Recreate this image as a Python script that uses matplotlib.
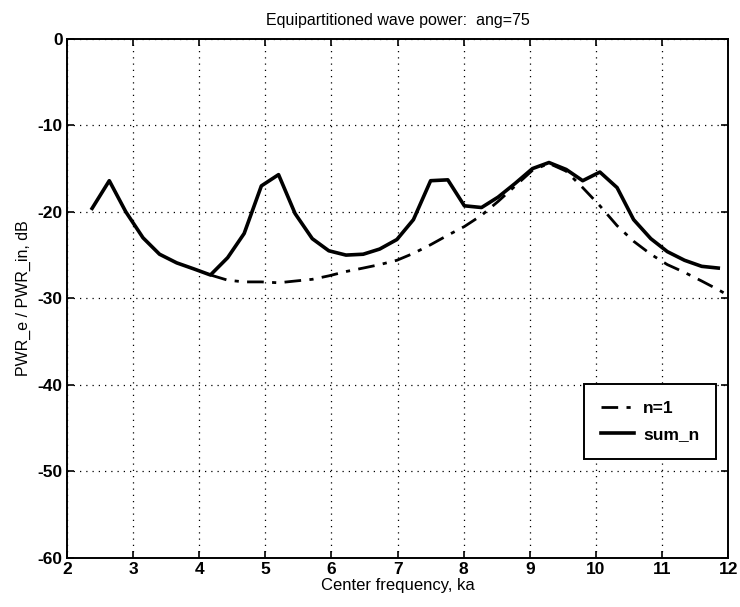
import matplotlib
matplotlib.use("Agg")
import matplotlib.pyplot as plt

plt.rcParams['font.family'] = ['Liberation Sans', 'DejaVu Sans']
plt.rcParams['axes.unicode_minus'] = False

# center frequency (ka) and power ratios in dB
ka_sum = [2.38, 2.64, 2.89, 3.15, 3.40, 3.66, 3.92, 4.17, 4.43, 4.68,
          4.94, 5.20, 5.45, 5.71, 5.96, 6.22, 6.48, 6.73, 6.99, 7.24,
          7.50, 7.76, 8.01, 8.27, 8.52, 8.78, 9.04, 9.29, 9.55, 9.80,
          10.06, 10.32, 10.57, 10.83, 11.08, 11.34, 11.60, 11.85]
pwr_sum = [-19.6, -16.4, -20.0, -23.0, -24.9, -25.9, -26.6, -27.3, -25.3, -22.5,
           -17.0, -15.7, -20.2, -23.1, -24.5, -25.0, -24.9, -24.3, -23.2, -20.9,
           -16.4, -16.3, -19.3, -19.5, -18.3, -16.7, -15.0, -14.3, -15.1, -16.4,
           -15.4, -17.2, -20.9, -23.1, -24.6, -25.6, -26.3, -26.5]

ka_n1 = [4.17, 4.43, 4.68, 4.94, 5.20, 5.45, 5.71, 5.96, 6.22, 6.48,
         6.73, 6.99, 7.24, 7.50, 7.76, 8.01, 8.27, 8.52, 8.78, 9.04,
         9.29, 9.55, 9.80, 10.06, 10.32, 10.57, 10.83, 11.08, 11.34, 11.60,
         11.85, 12.10]
pwr_n1 = [-27.3, -27.9, -28.1, -28.1, -28.2, -28.0, -27.8, -27.4, -26.9, -26.5,
          -26.1, -25.6, -24.8, -23.8, -22.7, -21.7, -20.4, -18.8, -17.0, -15.2,
          -14.4, -15.3, -17.2, -19.3, -21.6, -23.4, -24.9, -26.1, -27.0, -28.0,
          -29.0, -30.1]

xticks = list(range(2, 13))
yticks = list(range(-60, 1, 10))

fig = plt.figure(figsize=(7.4, 6.07), dpi=100)
ax = fig.add_axes([0.0905, 0.081, 0.8935, 0.855])

ax.plot(ka_n1, pwr_n1, color='black', linestyle=(0, (6, 3, 1.5, 3)), linewidth=2.0, label='n=1')
ax.plot(ka_sum, pwr_sum, color='black', linestyle='-', linewidth=2.6, label='sum_n')

ax.set_xlim(2, 12)
ax.set_ylim(-60, 0)
ax.set_xticks(xticks)
ax.set_yticks(yticks)
ax.grid(True, color='black', linestyle=(0, (1, 4)), linewidth=0.9)
ax.tick_params(direction='in', top=True, right=True, length=5, width=1.2,
               labelsize=12.5, pad=3)
for lbl in ax.get_xticklabels() + ax.get_yticklabels():
    lbl.set_fontweight('bold')
for sp in ax.spines.values():
    sp.set_linewidth(1.4)

ax.set_title('Equipartitioned wave power:  ang=75', fontsize=11.5, pad=10)
ax.set_xlabel('Center frequency, ka', fontsize=12, labelpad=1)
ax.set_ylabel('PWR_e / PWR_in, dB', fontsize=11.5, labelpad=5)

leg = ax.legend(loc='lower left', bbox_to_anchor=(0.782, 0.19, 0.2, 0.153),
                mode='expand', borderaxespad=0, fancybox=False, framealpha=1,
                edgecolor='black', fontsize=12.5, handlelength=1.9,
                handletextpad=0.5, borderpad=1.0, labelspacing=0.6)
leg.get_frame().set_linewidth(1.4)
for t in leg.get_texts():
    t.set_fontweight('bold')

fig.savefig('out.png', dpi=100)
